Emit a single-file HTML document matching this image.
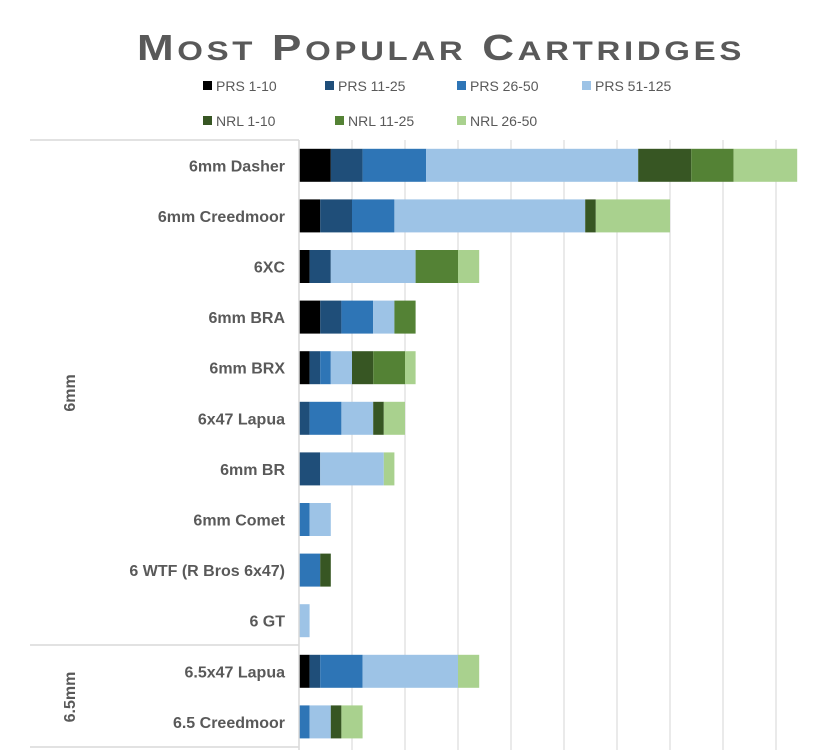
<!DOCTYPE html>
<html><head><meta charset="utf-8"><style>
body{margin:0;background:#fff;width:814px;height:750px;overflow:hidden;font-family:"Liberation Sans",sans-serif}
</style></head><body>
<svg id="chart" width="814" height="750" xmlns="http://www.w3.org/2000/svg">
<text x="441" y="60" text-anchor="middle" font-family="Liberation Sans, sans-serif" font-weight="bold" font-size="36" fill="#595959" letter-spacing="3" textLength="608" lengthAdjust="spacingAndGlyphs">M<tspan font-size="27">OST</tspan> P<tspan font-size="27">OPULAR</tspan> C<tspan font-size="27">ARTRIDGES</tspan></text>
<g id="legend"></g>
<g id="grid"></g>
<g id="bars"></g>
<g id="labels"></g>
<g stroke="#d9d9d9" stroke-width="1.5">
<line x1="30" y1="140" x2="299" y2="140"/><line x1="30" y1="645" x2="299" y2="645"/><line x1="30" y1="747" x2="299" y2="747"/><line x1="299" y1="140" x2="299" y2="750"/>
</g>
<text transform="translate(75,393) rotate(-90)" text-anchor="middle" font-weight="bold" font-size="16" fill="#595959">6mm</text>
<text transform="translate(75,697) rotate(-90)" text-anchor="middle" font-weight="bold" font-size="16" fill="#595959">6.5mm</text>
</svg>
<script>
const categories=["6mm Dasher","6mm Creedmoor","6XC","6mm BRA","6mm BRX","6x47 Lapua","6mm BR","6mm Comet","6 WTF (R Bros 6x47)","6 GT","6.5x47 Lapua","6.5 Creedmoor"];
const seriesNames=["PRS 1-10","PRS 11-25","PRS 26-50","PRS 51-125","NRL 1-10","NRL 11-25","NRL 26-50"];
const prs1=[3,2,1,2,1,0,0,0,0,0,1,0];
const prs11=[3,3,2,2,1,1,2,0,0,0,1,0];
const prs26=[6,4,0,3,1,3,0,1,2,0,4,1];
const prs51=[20,18,8,2,2,3,6,2,0,1,9,2];
const nrl1=[5,1,0,0,2,1,0,0,1,0,0,1];
const nrl11=[4,0,4,2,3,0,0,0,0,0,0,0];
const nrl26=[6,7,2,0,1,2,1,0,0,0,2,2];
const series=[prs1,prs11,prs26,prs51,nrl1,nrl11,nrl26];
const colors=["#000000","#1f4e79","#2e75b6","#9dc3e6","#375623","#548235","#a9d18e"];
const gridTicks=[0,5,10,15,20,25,30,35,40,45];
const NS="http://www.w3.org/2000/svg";
const x0=299,pxPer=10.6,rowTop=140,rowH=50.6,barH=33;
const xs=v=>x0+v*pxPer;
const ys=i=>rowTop+rowH*i+rowH/2;
function mk(t,a,p){const e=document.createElementNS(NS,t);for(const k in a)e.setAttribute(k,a[k]);p.appendChild(e);return e;}
const grid=document.getElementById('grid');
gridTicks.forEach(t=>{if(t===0)return;
 const l=mk('line',{x1:xs(t),x2:xs(t),y1:140,y2:750,stroke:'#e3e3e3','stroke-width':1.5},grid);
 
 });
const bars=document.getElementById('bars');
categories.forEach((c,i)=>{let acc=0;
 series.forEach((s,j)=>{const v=s[i];if(v>0){
  const r=mk('rect',{x:xs(acc),y:ys(i)-barH/2,width:v*pxPer,height:barH,fill:colors[j]},bars);
  
  }
  acc+=v;});
});
const labels=document.getElementById('labels');
categories.forEach((c,i)=>{const t=mk('text',{x:285,y:ys(i)+6,'text-anchor':'end','font-size':16,'font-weight':'bold',fill:'#595959'},labels);
 t.textContent=c;
 
 });
const legend=document.getElementById('legend');
const lpos=[[203,86],[325,86],[457,86],[582,86],[203,121],[335,121],[457,121]];
seriesNames.forEach((n,j)=>{const g=mk('g',{},legend);
 
 
 mk('rect',{x:lpos[j][0],y:lpos[j][1]-5,width:9,height:9,fill:colors[j]},g);
 const t=mk('text',{x:lpos[j][0]+13,y:lpos[j][1]+5,'font-size':14,fill:'#595959'},g);t.textContent=n;});
</script>
</body></html>
